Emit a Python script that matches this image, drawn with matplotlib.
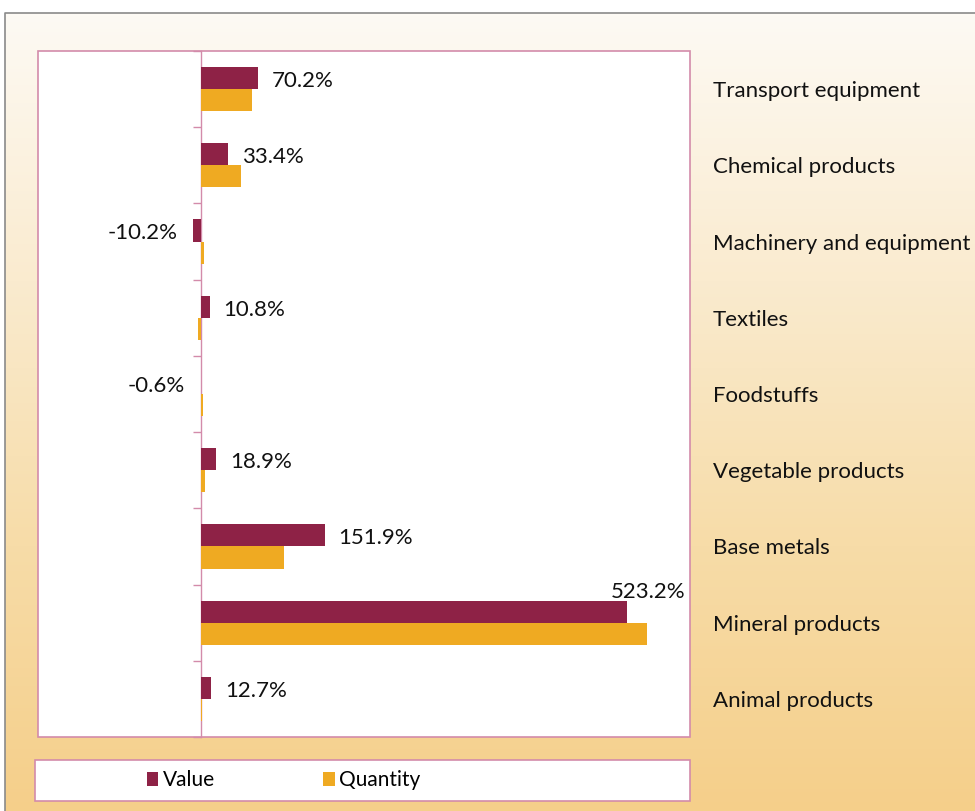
import numpy as np
import matplotlib
matplotlib.use("Agg")
import matplotlib.pyplot as plt
from matplotlib.patches import Rectangle, Patch
from matplotlib.colors import LinearSegmentedColormap

# ---- data (top to bottom as displayed) ----
categories = ["Transport equipment", "Chemical products", "Machinery and equipment",
              "Textiles", "Foodstuffs", "Vegetable products", "Base metals",
              "Mineral products", "Animal products"]
value_pct = [70.2, 33.4, -10.2, 10.8, -0.6, 18.9, 151.9, 523.2, 12.7]
quantity_pct = [63.0, 49.0, 3.5, -3.5, 2.5, 5.0, 102.0, 547.0, 1.5]
series_names = ["Value", "Quantity"]

VALUE_C = "#8E2246"
QTY_C = "#EFAA22"
PINK = "#D38BAA"
FONT = "Lato"

W, H = 975, 811
fig = plt.figure(figsize=(W / 100, H / 100), dpi=100, facecolor="white")

# background gradient panel
bg = fig.add_axes([0, 0, 1, 1], zorder=-10)
bg.set_axis_off()
cmap = LinearSegmentedColormap.from_list("bg", ["#FDFAF4", "#FAEBCF", "#F7DCA8", "#F5CF8A"])
grad = np.linspace(0, 1, 256).reshape(-1, 1)
x0, ytop = 5 / W, 1 - 13 / H
bg.imshow(grad, cmap=cmap, aspect="auto", extent=[x0, 1, 0, ytop], origin="upper")
bg.set_xlim(0, 1)
bg.set_ylim(0, 1)
bg.plot([x0, x0, 1], [0, ytop, ytop], color="#8A8A8A", lw=1.2)

# main axes
ax = fig.add_axes([38 / W, 74 / H, 652 / W, 686 / H])
ax.set_facecolor("white")
n = len(categories)
y = np.arange(n)
bh = 0.29
ax.barh(y - bh / 2, value_pct, height=bh, color=VALUE_C, label=series_names[0], zorder=3)
ax.barh(y + bh / 2, quantity_pct, height=bh, color=QTY_C, label=series_names[1], zorder=3)

ax.set_xlim(-200, 600)
ax.set_ylim(n - 0.5, -0.5)

for s in ["top", "bottom", "right"]:
    ax.spines[s].set_visible(False)
ax.spines["left"].set_position(("data", 0))
ax.spines["left"].set_color(PINK)
ax.spines["left"].set_linewidth(1.0)
ax.spines["left"].set_zorder(2)
ax.add_patch(Rectangle((0, 0), 1, 1, transform=ax.transAxes, fill=False,
                       edgecolor=PINK, lw=1.2, clip_on=False, zorder=5))

ax.set_xticks([])
ax.set_yticks(y)
ax.set_yticklabels(categories, fontsize=16, family=FONT, color="#111111")
ax.set_yticks(np.arange(n + 1) - 0.5, minor=True)
ax.tick_params(axis="y", which="major", left=False, right=False,
               labelleft=False, labelright=True, pad=13)
ax.tick_params(axis="y", which="minor", left=True, length=6, width=1, color=PINK, direction="out")
for lbl in ax.get_yticklabels():
    lbl.set_horizontalalignment("left")

# data labels
lab_kw = dict(fontsize=16, family=FONT, color="#111111", va="center")
for yi, v in zip(y, value_pct):
    yb = yi - bh / 2
    if v > 400:
        ax.annotate(f"{v:.1f}%", xy=(1, yi - 0.42), xycoords=("axes fraction", "data"),
                    xytext=(-3, -1), textcoords="offset points", ha="right", **lab_kw)
    elif v >= 0:
        ax.annotate(f"{v:.1f}%", xy=(v, yb), xytext=(10, -2), textcoords="offset points",
                    ha="left", **lab_kw)
    else:
        ax.annotate(f"{v:.1f}%", xy=(v, yb), xytext=(-11, -2), textcoords="offset points",
                    ha="right", **lab_kw)

# legend box
fig.add_artist(Rectangle((35 / W, 10 / H), 655 / W, 41 / H, transform=fig.transFigure,
                         facecolor="white", edgecolor=PINK, lw=1.2, zorder=1))
handles = [Patch(facecolor=VALUE_C), Patch(facecolor=QTY_C)]
leg = fig.legend(handles, series_names, loc="center left", bbox_to_anchor=(147 / W, 30.5 / H),
                 ncol=2, frameon=False, prop={"family": FONT, "size": 15},
                 handlelength=0.55, handleheight=0.65, handletextpad=0.2, columnspacing=5.2,
                 borderaxespad=0, borderpad=0)
leg.set_zorder(2)

fig.savefig("out.png", dpi=100, facecolor="white")
